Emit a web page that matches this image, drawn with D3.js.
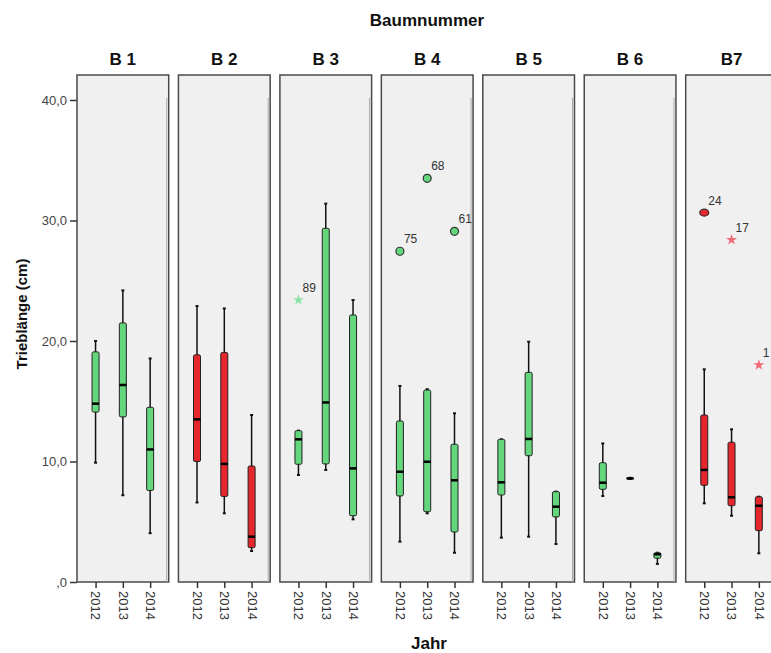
<!DOCTYPE html>
<html>
<head>
<meta charset="utf-8">
<script src="https://cdn.jsdelivr.net/npm/d3@7"></script>
<style>
  body { margin: 0; background: #fff; }
  text { font-family: "Liberation Sans", Arial, sans-serif; }
</style>
</head>
<body>
<script>
// categories
var trees = ["B 1", "B 2", "B 3", "B 4", "B 5", "B 6", "B7"];
var years = ["2012", "2013", "2014"];
var treeGroup = ["g", "r", "g", "g", "g", "g", "r"];
var yTicks = [0, 10, 20, 30, 40];

// box stats per year: [whisker low, q1, median, q3, whisker high]
var b1 = [[9.9, 14.1, 14.8, 19.1, 20.0], [7.2, 13.7, 16.35, 21.5, 24.2], [4.05, 7.6, 11.0, 14.5, 18.55]];
var b2 = [[6.6, 10.0, 13.5, 18.85, 22.9], [5.7, 7.1, 9.8, 19.05, 22.7], [2.57, 2.85, 3.76, 9.63, 13.86]];
var b3 = [[8.88, 9.77, 11.84, 12.56, 12.56], [9.3, 9.8, 14.9, 29.35, 31.4], [5.2, 5.5, 9.43, 22.16, 23.4]];
var b4 = [[3.35, 7.14, 9.15, 13.36, 16.27], [5.7, 5.83, 9.98, 15.93, 16.0], [2.43, 4.15, 8.44, 11.43, 14.0]];
var b5 = [[3.68, 7.22, 8.27, 11.84, 11.84], [3.76, 10.48, 11.87, 17.4, 19.94], [3.15, 5.4, 6.25, 7.5, 7.5]];
var b6 = [[7.14, 7.69, 8.24, 9.9, 11.5], [8.55, 8.57, 8.6, 8.63, 8.65], [1.5, 1.97, 2.3, 2.43, 2.43]];
var b7 = [[6.53, 8.02, 9.3, 13.86, 17.65], [5.5, 6.33, 7.03, 11.6, 12.67], [2.38, 4.26, 6.33, 7.08, 7.08]];
var boxStats = [b1, b2, b3, b4, b5, b6, b7];

// outliers (o = circle, s = extreme star)
var outliers = [
  { tree: "B 3", year: "2012", value: 23.4, id: "89", kind: "s" },
  { tree: "B 4", year: "2012", value: 27.45, id: "75", kind: "o" },
  { tree: "B 4", year: "2013", value: 33.5, id: "68", kind: "o" },
  { tree: "B 4", year: "2014", value: 29.1, id: "61", kind: "o" },
  { tree: "B7", year: "2012", value: 30.65, id: "24", kind: "o" },
  { tree: "B7", year: "2013", value: 28.4, id: "17", kind: "s" },
  { tree: "B7", year: "2014", value: 18.0, id: "1", kind: "s" }
];

var fillColor = { g: "#64d67c", r: "#e5262c" };
var starColor = { g: "#8fe3a6", r: "#f26a78" };

// layout
var svgWidth = 771, svgHeight = 653;
var stripTop = 75, panelBottom = 582;

var svg = d3.select("body").append("svg")
  .attr("width", svgWidth)
  .attr("height", svgHeight);

var x = d3.scaleBand().domain(trees).range([77, 777.4]).paddingInner(0.096);
var y = d3.scaleLinear().domain([0, 40]).range([panelBottom, 100]);
var xYear = d3.scalePoint().domain(years).range([0, x.bandwidth()]).padding(0.68);

// titles
svg.append("text")
  .attr("x", 427).attr("y", 26)
  .attr("text-anchor", "middle")
  .style("font-size", "17px").style("font-weight", "bold").style("fill", "#111")
  .text("Baumnummer");

svg.append("text")
  .attr("x", 429).attr("y", 649)
  .attr("text-anchor", "middle")
  .style("font-size", "17px").style("font-weight", "bold").style("fill", "#111")
  .text("Jahr");

svg.append("text")
  .attr("transform", "translate(27, 314) rotate(-90)")
  .attr("text-anchor", "middle")
  .style("font-size", "15px").style("font-weight", "bold").style("fill", "#111")
  .text("Trieblänge (cm)");

// y axis
var yAxis = svg.append("g")
  .attr("transform", "translate(77, 0)")
  .call(d3.axisLeft(y).tickValues(yTicks).tickSize(7).tickPadding(3)
    .tickFormat(function(d) { return d === 0 ? ",0" : d + ",0"; }));
yAxis.select(".domain").remove();
yAxis.selectAll("line").attr("stroke", "#333").attr("stroke-width", 1.5);
yAxis.selectAll("text").style("font-size", "13px").style("fill", "#444")
  .style("font-family", "'Liberation Sans', Arial, sans-serif");

// panels
trees.forEach(function(t, i) {
  var px = x(t), bw = x.bandwidth();
  var g = svg.append("g").attr("transform", "translate(" + px + ",0)");

  g.append("rect")
    .attr("x", 0).attr("y", stripTop)
    .attr("width", bw).attr("height", panelBottom - stripTop)
    .attr("fill", "#f0f0f0")
    .attr("stroke", "#4a4a4a").attr("stroke-width", 1.5);
  g.append("line")
    .attr("x1", bw - 2).attr("x2", bw - 2)
    .attr("y1", 98).attr("y2", panelBottom)
    .attr("stroke", "#aaa").attr("stroke-width", 1);

  g.append("text")
    .attr("x", bw / 2).attr("y", 65)
    .attr("text-anchor", "middle")
    .style("font-size", "17px").style("font-weight", "bold").style("fill", "#111")
    .text(t);

  // year axis
  var xa = g.append("g")
    .attr("transform", "translate(0," + panelBottom + ")")
    .call(d3.axisBottom(xYear).tickSize(6));
  xa.select(".domain").remove();
  xa.selectAll("line").attr("stroke", "#333").attr("stroke-width", 1.5);
  xa.selectAll("text")
    .attr("transform", "rotate(90)")
    .attr("x", 9).attr("y", 0).attr("dy", "0.35em")
    .style("text-anchor", "start")
    .style("font-size", "13px").style("fill", "#333")
    .style("font-family", "'Liberation Sans', Arial, sans-serif");

  // boxes
  var boxW = 7, capW = 3;
  var col = fillColor[treeGroup[i]];
  var bg = g.selectAll(".box").data(boxStats[i]).enter().append("g")
    .attr("transform", function(d, j) { return "translate(" + xYear(years[j]) + ",0)"; });

  bg.append("line")
    .attr("y1", function(d) { return y(d[0]); })
    .attr("y2", function(d) { return y(d[4]); })
    .attr("stroke", "#111").attr("stroke-width", 1.5);
  bg.append("line")
    .attr("x1", -capW / 2).attr("x2", capW / 2)
    .attr("y1", function(d) { return y(d[0]); })
    .attr("y2", function(d) { return y(d[0]); })
    .attr("stroke", "#111").attr("stroke-width", 2);
  bg.append("line")
    .attr("x1", -capW / 2).attr("x2", capW / 2)
    .attr("y1", function(d) { return y(d[4]); })
    .attr("y2", function(d) { return y(d[4]); })
    .attr("stroke", "#111").attr("stroke-width", 2);
  bg.append("rect")
    .attr("x", -boxW / 2)
    .attr("y", function(d) { return y(d[3]); })
    .attr("width", boxW)
    .attr("height", function(d) { return Math.max(1, y(d[1]) - y(d[3])); })
    .attr("rx", 1.5)
    .attr("fill", col)
    .attr("stroke", "#222").attr("stroke-width", 1);
  bg.append("line")
    .attr("x1", -boxW / 2).attr("x2", boxW / 2)
    .attr("y1", function(d) { return y(d[2]); })
    .attr("y2", function(d) { return y(d[2]); })
    .attr("stroke", "#000").attr("stroke-width", 2.5);
});

// outliers
outliers.forEach(function(o) {
  var ti = trees.indexOf(o.tree);
  var cx = x(o.tree) + xYear(o.year);
  var cy = y(o.value);
  var grp = treeGroup[ti];
  if (o.kind === "o") {
    svg.append("ellipse")
      .attr("cx", cx).attr("cy", cy)
      .attr("rx", grp === "r" ? 4.5 : 4).attr("ry", grp === "r" ? 3.5 : 4)
      .attr("fill", fillColor[grp])
      .attr("stroke", "#333").attr("stroke-width", 1.2);
  } else {
    svg.append("path")
      .attr("transform", "translate(" + cx + "," + cy + ")")
      .attr("d", d3.symbol(d3.symbolStar).size(38)())
      .attr("fill", starColor[grp]);
  }
  svg.append("text")
    .attr("x", cx + 4).attr("y", cy - 8)
    .style("font-size", "12px").style("fill", "#333")
    .text(o.id);
});
</script>
</body>
</html>
